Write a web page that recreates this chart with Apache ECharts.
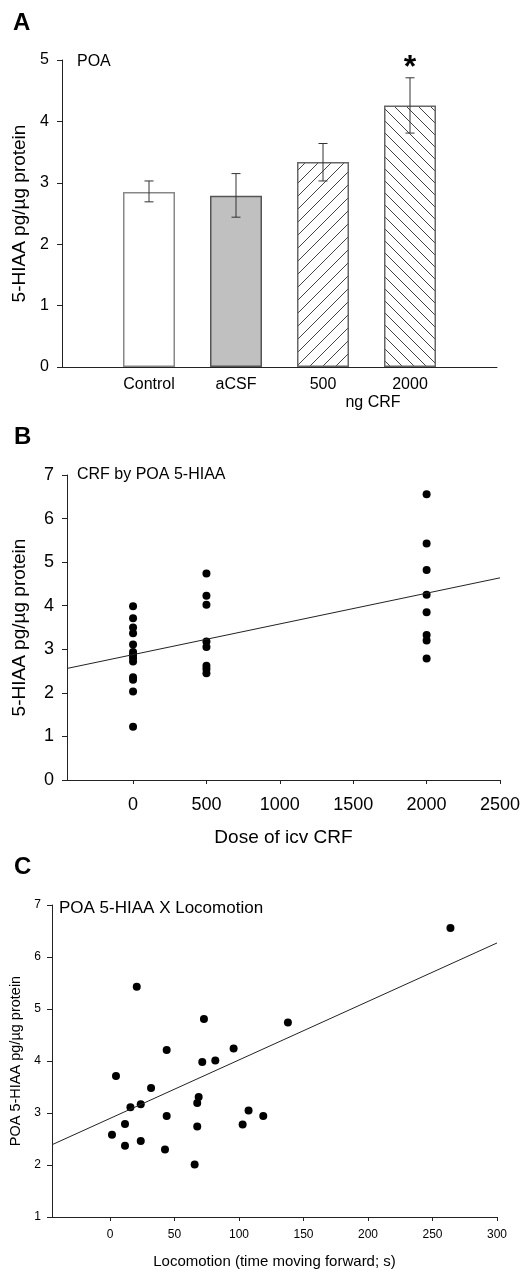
<!DOCTYPE html>
<html>
<head>
<meta charset="utf-8">
<script src="https://cdn.jsdelivr.net/npm/echarts@6/dist/echarts.min.js"></script>
<style>
html,body{margin:0;padding:0;background:#fff;}
#chart{width:524px;height:1271px;}
</style>
</head>
<body>
<div id="chart"></div>
<script>
// ---- Panel A data ----
const catsA = ['Control', 'aCSF', '500', '2000'];
const meanA = [2.85, 2.79, 3.34, 4.26];
const errLowA = [2.69, 2.44, 3.03, 3.81];
const errHighA = [3.03, 3.15, 3.64, 4.71];
const sigA = ['', '', '', '*'];

// ---- Panel B data ----
const doseB = [0,0,0,0,0,0,0,0,0,0,0,0,0, 500,500,500,500,500,500,500,500, 2000,2000,2000,2000,2000,2000,2000,2000];
const hiaaB = [3.99,3.71,3.50,3.37,3.11,2.94,2.87,2.80,2.72,2.36,2.30,2.03,1.22,
               4.74,4.23,4.02,3.18,3.05,2.62,2.55,2.45,
               6.56,5.43,4.82,4.25,3.85,3.33,3.20,2.79];
const fitBx = [-450, 2500];
const fitBy = [2.56, 4.64];
const ticksBx = [0, 500, 1000, 1500, 2000, 2500];

// ---- Panel C data ----
const locoC = [263.9, 20.7, 72.8, 137.9, 43.9, 95.8, 71.5, 81.6, 4.6, 31.8, 68.7, 67.6, 15.8, 23.8, 43.9, 107.4, 118.8, 11.6, 67.6, 102.8, 1.5, 11.6, 23.8, 42.6, 65.6];
const hiaaC = [6.56, 5.43, 4.81, 4.74, 4.21, 4.24, 3.98, 4.01, 3.71, 3.48, 3.31, 3.19, 3.11, 3.17, 2.94, 3.05, 2.94, 2.79, 2.74, 2.78, 2.58, 2.37, 2.46, 2.30, 2.01];
const fitCx = [-45, 300];
const fitCy = [2.39, 6.27];
const ticksCx = [0, 50, 100, 150, 200, 250, 300];

const FONT = '"Liberation Sans", Arial, Helvetica, sans-serif';

function hatch(dir, s) {
  const c = document.createElement('canvas');
  c.width = s; c.height = s;
  const g = c.getContext('2d');
  g.fillStyle = '#fff'; g.fillRect(0, 0, s, s);
  g.strokeStyle = '#444'; g.lineWidth = 1;
  g.beginPath();
  if (dir === '/') {
    g.moveTo(0, s); g.lineTo(s, 0);
    g.moveTo(-1, 1); g.lineTo(1, -1);
    g.moveTo(s - 1, s + 1); g.lineTo(s + 1, s - 1);
  } else {
    g.moveTo(0, 0); g.lineTo(s, s);
    g.moveTo(-1, s - 1); g.lineTo(1, s + 1);
    g.moveTo(s - 1, -1); g.lineTo(s + 1, 1);
  }
  g.stroke();
  return { image: c, repeat: 'repeat' };
}

const barStyles = [
  { color: '#ffffff', borderColor: '#888', borderWidth: 1.5 },
  { color: '#c0c0c0', borderColor: '#555', borderWidth: 1.5 },
  { color: hatch('/', 13), borderColor: '#666', borderWidth: 1.5 },
  { color: hatch('\\', 12), borderColor: '#666', borderWidth: 1.5 }
];

const axisCats = [''].concat(catsA, ['']);
const barData = [null].concat(meanA.map((v, i) => ({ value: v, itemStyle: barStyles[i] })), [null]);
const errData = catsA.map((c, i) => [i + 1, errLowA[i], errHighA[i], sigA[i]]);

const axLine = { show: true, onZero: false, lineStyle: { color: '#222', width: 1 } };
const axTick = { show: true, length: 5, lineStyle: { color: '#222', width: 1 } };
const plain = v => String(v);

const chart = echarts.init(document.getElementById('chart'), null, { renderer: 'canvas' });

const option = {
  animation: false,
  backgroundColor: '#fff',
  textStyle: { fontFamily: FONT, color: '#000' },
  grid: [
    { left: 62, top: 60, width: 435, height: 307 },
    { left: 67, top: 475, width: 433, height: 305 },
    { left: 52, top: 905, width: 445, height: 312 }
  ],
  xAxis: [
    {
      gridIndex: 0, type: 'category', data: axisCats, boundaryGap: false,
      axisLine: axLine, axisTick: { show: false },
      axisLabel: { fontSize: 16, color: '#000', margin: 10, fontFamily: FONT, interval: 0 }
    },
    {
      gridIndex: 1, type: 'value', min: -450, max: 2500,
      axisLine: axLine,
      axisTick: { show: true, length: 4, lineStyle: { color: '#222' }, customValues: ticksBx },
      axisLabel: { fontSize: 18, color: '#000', margin: 16, fontFamily: FONT, customValues: ticksBx, formatter: plain },
      splitLine: { show: false },
      name: 'Dose of icv CRF', nameLocation: 'middle', nameGap: 48,
      nameTextStyle: { fontSize: 19, color: '#000', fontFamily: FONT }
    },
    {
      gridIndex: 2, type: 'value', min: -45, max: 300,
      axisLine: axLine,
      axisTick: { show: true, length: 4, lineStyle: { color: '#222' }, customValues: ticksCx },
      axisLabel: { fontSize: 12, color: '#000', margin: 12, fontFamily: FONT, customValues: ticksCx, formatter: plain },
      splitLine: { show: false },
      name: 'Locomotion (time moving forward; s)', nameLocation: 'middle', nameGap: 37,
      nameTextStyle: { fontSize: 15, color: '#000', fontFamily: FONT }
    }
  ],
  yAxis: [
    {
      gridIndex: 0, type: 'value', min: 0, max: 5, interval: 1,
      axisLine: axLine, axisTick: axTick, splitLine: { show: false },
      axisLabel: { fontSize: 16, color: '#000', margin: 13, fontFamily: FONT },
      name: '5-HIAA pg/\u00b5g protein', nameLocation: 'middle', nameGap: 28, nameRotate: 90,
      nameTextStyle: { fontSize: 19, color: '#000', fontFamily: FONT }
    },
    {
      gridIndex: 1, type: 'value', min: 0, max: 7, interval: 1,
      axisLine: axLine, axisTick: axTick, splitLine: { show: false },
      axisLabel: { fontSize: 18, color: '#000', margin: 13, fontFamily: FONT },
      name: '5-HIAA pg/\u00b5g protein', nameLocation: 'middle', nameGap: 38, nameRotate: 90,
      nameTextStyle: { fontSize: 19, color: '#000', fontFamily: FONT }
    },
    {
      gridIndex: 2, type: 'value', min: 1, max: 7, interval: 1,
      axisLine: axLine, axisTick: axTick, splitLine: { show: false },
      axisLabel: { fontSize: 12, color: '#000', margin: 11, fontFamily: FONT },
      name: 'POA 5-HIAA pg/\u00b5g protein', nameLocation: 'middle', nameGap: 28, nameRotate: 90,
      nameTextStyle: { fontSize: 14.5, color: '#000', fontFamily: FONT }
    }
  ],
  series: [
    {
      type: 'bar', xAxisIndex: 0, yAxisIndex: 0, barWidth: 52, z: 2,
      data: barData, silent: true
    },
    {
      type: 'custom', xAxisIndex: 0, yAxisIndex: 0, data: errData, silent: true, z: 10,
      renderItem: function (params, api) {
        const x = api.value(0);
        const lo = api.coord([x, api.value(1)]);
        const hi = api.coord([x, api.value(2)]);
        const cap = 4.5;
        const st = { stroke: '#333', lineWidth: 1 };
        const children = [
          { type: 'line', shape: { x1: lo[0], y1: lo[1], x2: hi[0], y2: hi[1] }, style: st },
          { type: 'line', shape: { x1: lo[0] - cap, y1: lo[1], x2: lo[0] + cap, y2: lo[1] }, style: st },
          { type: 'line', shape: { x1: hi[0] - cap, y1: hi[1], x2: hi[0] + cap, y2: hi[1] }, style: st }
        ];
        const s = errData[params.dataIndex][3];
        if (s) {
          children.push({
            type: 'text',
            style: { text: s, x: hi[0], y: hi[1] - 26, align: 'center', verticalAlign: 'top',
                     font: 'bold 32px ' + FONT, fill: '#000' }
          });
        }
        return { type: 'group', children: children };
      }
    },
    {
      type: 'scatter', xAxisIndex: 1, yAxisIndex: 1, symbolSize: 8, silent: true,
      itemStyle: { color: '#000', opacity: 1 },
      data: doseB.map((d, i) => [d, hiaaB[i]])
    },
    {
      type: 'line', xAxisIndex: 1, yAxisIndex: 1, symbol: 'none', silent: true,
      lineStyle: { color: '#222', width: 1 },
      data: fitBx.map((d, i) => [d, fitBy[i]])
    },
    {
      type: 'scatter', xAxisIndex: 2, yAxisIndex: 2, symbolSize: 8, silent: true,
      itemStyle: { color: '#000', opacity: 1 },
      data: locoC.map((d, i) => [d, hiaaC[i]])
    },
    {
      type: 'line', xAxisIndex: 2, yAxisIndex: 2, symbol: 'none', silent: true,
      lineStyle: { color: '#222', width: 1 },
      data: fitCx.map((d, i) => [d, fitCy[i]])
    }
  ],
  graphic: [
    { type: 'text', x: 13, y: 23, style: { text: 'A', font: 'bold 24px ' + FONT, fill: '#000', verticalAlign: 'middle' } },
    { type: 'text', x: 14, y: 437, style: { text: 'B', font: 'bold 24px ' + FONT, fill: '#000', verticalAlign: 'middle' } },
    { type: 'text', x: 14, y: 867, style: { text: 'C', font: 'bold 24px ' + FONT, fill: '#000', verticalAlign: 'middle' } },
    { type: 'text', x: 77, y: 62, style: { text: 'POA', font: '16px ' + FONT, fill: '#000', verticalAlign: 'middle' } },
    { type: 'text', x: 373, y: 403, style: { text: 'ng CRF', font: '16px ' + FONT, fill: '#000', align: 'center', verticalAlign: 'middle' } },
    { type: 'text', x: 77, y: 475, style: { text: 'CRF by POA 5-HIAA', font: '16px ' + FONT, fill: '#000', verticalAlign: 'middle' } },
    { type: 'text', x: 59, y: 908, style: { text: 'POA 5-HIAA X Locomotion', font: '17px ' + FONT, fill: '#000', verticalAlign: 'middle' } }
  ]
};
chart.setOption(option);
</script>
</body>
</html>
